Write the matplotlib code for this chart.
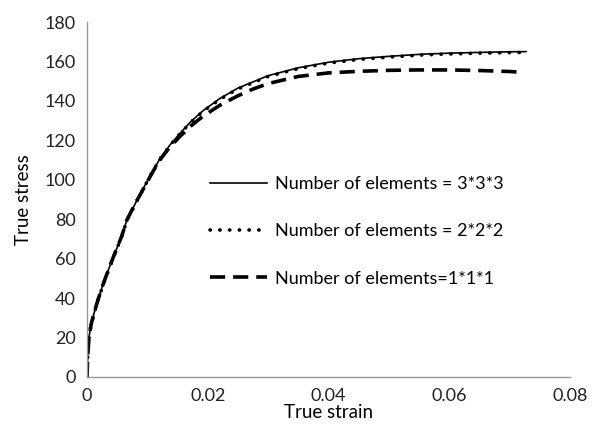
import numpy as np
import matplotlib.pyplot as plt

plt.rcParams['font.family'] = ['Lato', 'DejaVu Sans']

# data
strain_3 = [0, 0.0001, 0.00033, 0.0007, 0.00116, 0.0018, 0.00253, 0.0035, 0.0046, 0.0057,
            0.0066, 0.0080, 0.0093, 0.0107, 0.0121, 0.0137, 0.0154, 0.0172, 0.0192, 0.0220,
            0.0250, 0.0300, 0.0350, 0.0400, 0.0450, 0.0500, 0.0556, 0.0600, 0.0650, 0.0700, 0.0727]
stress_3 = [0, 10, 20.4, 27, 32.3, 39, 45.8, 54, 62.7, 71,
            79.6, 88, 95.5, 103.5, 110.8, 117.5, 123.6, 129.5, 135.0, 141.2,
            146.5, 152.8, 156.8, 159.6, 161.4, 162.6, 163.7, 164.2, 164.6, 164.9, 165.0]

strain_2 = [0, 0.0001, 0.00033, 0.0007, 0.00116, 0.0018, 0.00253, 0.0035, 0.0046, 0.0057,
            0.0066, 0.0080, 0.0093, 0.0107, 0.0121, 0.0137, 0.0154, 0.0172, 0.0192, 0.0220,
            0.0250, 0.0300, 0.0350, 0.0400, 0.0450, 0.0500, 0.0556, 0.0600, 0.0650, 0.0700, 0.0729]
stress_2 = [0, 10, 20.2, 26.8, 32.0, 38.8, 45.5, 53.7, 62.4, 70.8,
            79.3, 87.8, 95.3, 103.3, 110.6, 117.3, 123.3, 129.2, 134.7, 140.8,
            146.1, 152.4, 156.4, 159.2, 161.0, 162.2, 163.3, 163.8, 164.2, 164.5, 164.6]

strain_1 = [0, 0.0001, 0.00033, 0.0007, 0.00116, 0.0018, 0.00253, 0.0035, 0.0046, 0.0057,
            0.0066, 0.0080, 0.0093, 0.0107, 0.0121, 0.0137, 0.0154, 0.0172, 0.0192, 0.0220,
            0.0250, 0.0275, 0.0300, 0.0350, 0.0400, 0.0450, 0.0500, 0.0550, 0.0600, 0.0650, 0.0700, 0.0716]
stress_1 = [0, 10, 20.4, 27, 32.3, 39, 45.8, 54, 62.7, 71,
            79.6, 88, 95.2, 103, 110.2, 116.5, 122, 127.3, 132.2, 137.8,
            142.6, 146.0, 148.8, 152.4, 154.2, 155, 155.5, 155.7, 155.7, 155.4, 154.9, 154.6]

labels = ['Number of elements = 3*3*3', 'Number of elements = 2*2*2', 'Number of elements=1*1*1']
xticks = [0, 0.02, 0.04, 0.06, 0.08]
xtick_labels = ['0', '0.02', '0.04', '0.06', '0.08']
yticks = np.arange(0, 181, 20)

fig = plt.figure(figsize=(5.94, 4.30), dpi=100)
ax = fig.add_axes([0.1465, 0.1233, 0.8131, 0.8255])

ax.plot(strain_3, stress_3, color='black', lw=1.2, ls='-', label=labels[0])
ax.plot(strain_2, stress_2, color='black', lw=2.6, ls=(0, (0.1, 2.6)),
        dash_capstyle='round', label=labels[1])
ax.plot(strain_1, stress_1, color='black', lw=2.6, ls=(0, (4.2, 2.2)), label=labels[2])

ax.set_xlim(0, 0.08)
ax.set_ylim(0, 180)
ax.set_xticks(xticks)
ax.set_xticklabels(xtick_labels)
ax.set_yticks(yticks)
ax.tick_params(length=0, labelsize=13, colors='#222222', pad=8)
for s in ['top', 'right']:
    ax.spines[s].set_visible(False)
for s in ['left', 'bottom']:
    ax.spines[s].set_color('#999999')
    ax.spines[s].set_linewidth(1)

ax.set_xlabel('True strain', fontsize=13.5, labelpad=0)
ax.set_ylabel('True stress', fontsize=13.5, labelpad=9)

ax.legend(loc='center left', bbox_to_anchor=(0.22, 0.41), frameon=False,
          fontsize=13, handlelength=3.2, handletextpad=0.4, labelspacing=1.72)

fig.savefig('out.png', dpi=100)
